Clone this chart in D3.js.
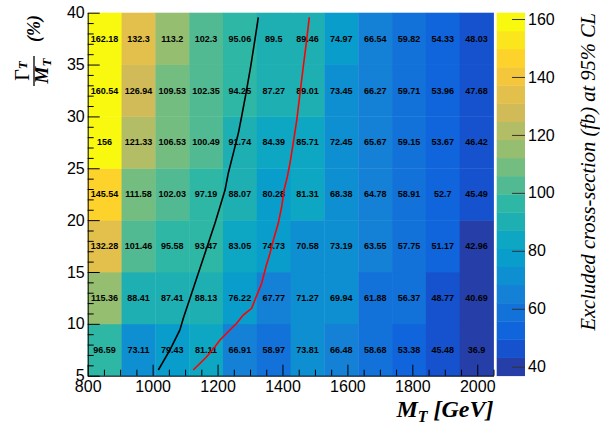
<!DOCTYPE html>
<html>
<head>
<meta charset="utf-8">
<script src="https://cdn.jsdelivr.net/npm/d3@7"></script>
<style>
  html, body { margin: 0; padding: 0; background: #fff; }
  svg { display: block; }
</style>
</head>
<body>
<svg id="chart" width="600" height="428"></svg>
<script>
// ---------------- data ----------------
const massBins = [800, 904.17, 1008.33, 1112.5, 1216.67, 1320.83, 1425, 1529.17, 1633.33, 1737.5, 1841.67, 1945.83, 2050];
const widthBins = [5, 10, 15, 20, 25, 30, 35, 40];
// rows: width bins from 5-10 (first) up to 35-40 (last); columns: mass bins
const row5to10  = [96.59, 73.11, 79.43, 81.11, 66.91, 58.97, 73.81, 66.48, 58.68, 53.38, 45.48, 36.9];
const row10to15 = [115.36, 88.41, 87.41, 88.13, 76.22, 67.77, 71.27, 69.94, 61.88, 56.37, 48.77, 40.69];
const row15to20 = [132.28, 101.46, 95.58, 93.47, 83.05, 74.73, 70.58, 73.19, 63.55, 57.75, 51.17, 42.96];
const row20to25 = [145.54, 111.58, 102.03, 97.19, 88.07, 80.28, 81.31, 68.38, 64.78, 58.91, 52.7, 45.49];
const row25to30 = [156, 121.33, 106.53, 100.49, 91.74, 84.39, 85.71, 72.45, 65.67, 59.15, 53.67, 46.42];
const row30to35 = [160.54, 126.94, 109.53, 102.35, 94.25, 87.27, 89.01, 73.45, 66.27, 59.71, 53.96, 47.68];
const row35to40 = [162.18, 132.3, 113.2, 102.3, 95.06, 89.5, 89.46, 74.97, 66.54, 59.82, 54.33, 48.03];
const rows = [row5to10, row10to15, row15to20, row20to25, row25to30, row30to35, row35to40];

// exclusion contours (M_T [GeV], Gamma/M [%])
const blackCurveMass  = [1017.5, 1053.5, 1084, 1094.5, 1110, 1130.5, 1151, 1171.5, 1192, 1207.5, 1223, 1233, 1248.5, 1264, 1274, 1287.6, 1302, 1315, 1325.5];
const blackCurveWidth = [5.55, 7.48, 9.41, 10.53, 11.98, 13.91, 15.84, 17.77, 19.69, 21.3, 22.9, 24.52, 26.44, 28.37, 29.97, 32.23, 34.79, 37.37, 39.56];
const redCurveMass  = [1125, 1166.6, 1192, 1207.5, 1238, 1259, 1279, 1305, 1315, 1336, 1349, 1361.5, 1372, 1387, 1397.6, 1404.7, 1415, 1423, 1433, 1444, 1454, 1464, 1474.6, 1482.6];
const redCurveWidth = [5.55, 6.83, 7.8, 8.44, 9.41, 10.05, 10.85, 11.5, 12.3, 13.91, 15.51, 16.8, 18.08, 19.69, 21.3, 22.9, 24.19, 25.48, 27.41, 29.65, 32.23, 34.79, 37.37, 39.56];

const xTicks = [800, 1000, 1200, 1400, 1600, 1800, 2000];
const yTicks = [5, 10, 15, 20, 25, 30, 35, 40];
const zTicks = [40, 60, 80, 100, 120, 140, 160];

// ---------------- palette (ROOT kBird, 255 colours, 20 contours) ----------------
const pStops = [0.0, 0.125, 0.25, 0.375, 0.5, 0.625, 0.75, 0.875, 1.0];
const pRed   = [0.2082, 0.0592, 0.0780, 0.0232, 0.1802, 0.5301, 0.8186, 0.9956, 0.9764];
const pGreen = [0.1664, 0.3599, 0.5041, 0.6419, 0.7178, 0.7492, 0.7328, 0.7862, 0.9832];
const pBlue  = [0.5293, 0.8684, 0.8385, 0.7914, 0.6425, 0.4662, 0.3499, 0.1968, 0.0539];
const NCOL = 255, NCONT = 20;
const table = [];
for (let g = 1; g < pStops.length; g++) {
  const n = Math.floor(NCOL * pStops[g]) - Math.floor(NCOL * pStops[g - 1]);
  for (let c = 0; c < n; c++) {
    const f = c / n;
    const r = pRed[g - 1] + f * (pRed[g] - pRed[g - 1]);
    const gg = pGreen[g - 1] + f * (pGreen[g] - pGreen[g - 1]);
    const b = pBlue[g - 1] + f * (pBlue[g] - pBlue[g - 1]);
    table.push(d3.rgb(Math.round(r * 255), Math.round(gg * 255), Math.round(b * 255)).toString());
  }
}
const allVals = rows.flat();
const zmin = d3.min(allVals), zmax = d3.max(allVals);
function bandOf(v) {
  return Math.max(0, Math.min(NCONT - 1, Math.floor((v - zmin) * NCONT / (zmax - zmin))));
}
function bandColor(k) {
  const idx = Math.min(NCOL - 1, Math.floor((k + 0.99) * NCOL / NCONT));
  return table[idx];
}

// ---------------- layout ----------------
const L = 87.7, R = 493.5, T = 12.7, B = 375.7;
const svg = d3.select('#chart');
const x = d3.scaleLinear().domain([800, 2050]).range([L, R]);
const y = d3.scaleLinear().domain([5, 40]).range([B, T]);

// cells
const cells = [];
rows.forEach((row, j) => row.forEach((v, i) => cells.push({ i, j, v })));
const gCells = svg.append('g');
gCells.selectAll('rect').data(cells).enter().append('rect')
  .attr('x', d => x(massBins[d.i]))
  .attr('y', d => y(widthBins[d.j + 1]))
  .attr('width', d => x(massBins[d.i + 1]) - x(massBins[d.i]) + 0.4)
  .attr('height', d => y(widthBins[d.j]) - y(widthBins[d.j + 1]) + 0.4)
  .attr('fill', d => bandColor(bandOf(d.v)));

gCells.selectAll('text').data(cells).enter().append('text')
  .attr('x', d => (x(massBins[d.i]) + x(massBins[d.i + 1])) / 2)
  .attr('y', d => (y(widthBins[d.j]) + y(widthBins[d.j + 1])) / 2)
  .attr('dy', '0.35em')
  .attr('text-anchor', 'middle')
  .attr('font-family', '"Liberation Sans", Arial, sans-serif')
  .attr('font-weight', 'bold')
  .attr('font-size', 9)
  .attr('fill', '#000')
  .text(d => String(d.v));

// curves
const line = d3.line().x(d => x(d[0])).y(d => y(d[1]));
svg.append('path')
  .datum(blackCurveMass.map((m, k) => [m, blackCurveWidth[k]]))
  .attr('d', line).attr('fill', 'none').attr('stroke', '#000').attr('stroke-width', 1.6);
svg.append('path')
  .datum(redCurveMass.map((m, k) => [m, redCurveWidth[k]]))
  .attr('d', line).attr('fill', 'none').attr('stroke', '#f00').attr('stroke-width', 1.6);

// axes
const axFont = '"Liberation Sans", Arial, sans-serif';
function styleAxis(g) {
  g.selectAll('text').attr('font-family', axFont).attr('font-size', 16).attr('fill', '#000');
  g.selectAll('line').attr('stroke', '#000');
  g.select('.domain').attr('stroke', '#000');
}
const xMinor = d3.range(800, 2051, 50).filter(v => !xTicks.includes(v));
svg.append('g').attr('transform', `translate(0,${B})`)
  .call(d3.axisBottom(x).tickValues(xMinor).tickSize(-6).tickFormat(''))
  .call(g => g.select('.domain').remove())
  .call(g => g.selectAll('line').attr('stroke', '#000'));
svg.append('g').attr('transform', `translate(0,${B})`)
  .call(d3.axisBottom(x).tickValues(xTicks).tickSizeInner(-11).tickSizeOuter(0).tickPadding(5).tickFormat(d3.format('d')))
  .call(styleAxis);

const yMinor = d3.range(5, 40.01, 1).filter(v => !yTicks.includes(v));
svg.append('g').attr('transform', `translate(${L},0)`)
  .call(d3.axisLeft(y).tickValues(yMinor).tickSize(-6).tickFormat(''))
  .call(g => g.select('.domain').remove())
  .call(g => g.selectAll('line').attr('stroke', '#000'));
svg.append('g').attr('transform', `translate(${L},0)`)
  .call(d3.axisLeft(y).tickValues(yTicks).tickSizeInner(-12).tickSizeOuter(0).tickPadding(3).tickFormat(d3.format('d')))
  .call(styleAxis);

// colour bar
const CL = 496.7, CR = 525;
const z = d3.scaleLinear().domain([zmin, zmax]).range([B, T]);
const dz = (zmax - zmin) / NCONT;
const bands = d3.range(NCONT);
svg.append('g').selectAll('rect').data(bands).enter().append('rect')
  .attr('x', CL).attr('width', CR - CL)
  .attr('y', k => z(zmin + (k + 1) * dz))
  .attr('height', k => z(zmin + k * dz) - z(zmin + (k + 1) * dz) + 0.4)
  .attr('fill', k => bandColor(k));
svg.append('g').attr('transform', `translate(${CR},0)`)
  .call(d3.axisRight(z).tickValues(zTicks).tickSizeInner(-13).tickSizeOuter(0).tickPadding(3).tickFormat(d3.format('d')))
  .call(styleAxis)
  .call(g => g.select('.domain').remove())
  .call(g => g.selectAll('line').attr('stroke', '#333'));

// titles
const serif = '"Liberation Serif", "Times New Roman", serif';
svg.append('text')
  .attr('transform', 'translate(595,13) rotate(-90)')
  .attr('text-anchor', 'end')
  .attr('font-family', serif).attr('font-style', 'italic').attr('font-size', 20.5)
  .attr('fill', '#000')
  .text('Excluded cross-section (fb) at 95% CL');

const xt = svg.append('text')
  .attr('x', R).attr('y', 417)
  .attr('text-anchor', 'end')
  .attr('font-family', serif).attr('font-style', 'italic').attr('font-weight', 'bold').attr('font-size', 24)
  .attr('fill', '#000');
xt.append('tspan').text('M');
xt.append('tspan').attr('font-size', 16).attr('dy', 5).text('T');
xt.append('tspan').attr('dy', -5).text(' [GeV]');

const yt = svg.append('g').attr('transform', 'translate(34,0) rotate(-90)');
yt.append('line').attr('x1', -86).attr('x2', -56).attr('y1', 0).attr('y2', 0)
  .attr('stroke', '#000').attr('stroke-width', 1.3);
const num = yt.append('text').attr('x', -71).attr('y', -5).attr('text-anchor', 'middle')
  .attr('font-family', serif).attr('font-size', 20).attr('fill', '#000');
num.append('tspan').text('Γ');
num.append('tspan').attr('font-size', 13).attr('font-style', 'italic').attr('font-weight', 'bold').attr('dy', -2).text('T');
const den = yt.append('text').attr('x', -71).attr('y', 14).attr('text-anchor', 'middle')
  .attr('font-family', serif).attr('font-style', 'italic').attr('font-weight', 'bold').attr('font-size', 19).attr('fill', '#000');
den.append('tspan').text('M');
den.append('tspan').attr('font-size', 13).attr('dy', 3).text('T');
yt.append('text').attr('x', -15).attr('y', 6).attr('text-anchor', 'end')
  .attr('font-family', serif).attr('font-style', 'italic').attr('font-weight', 'bold').attr('font-size', 18).attr('fill', '#000')
  .text('(%)');
</script>
</body>
</html>
